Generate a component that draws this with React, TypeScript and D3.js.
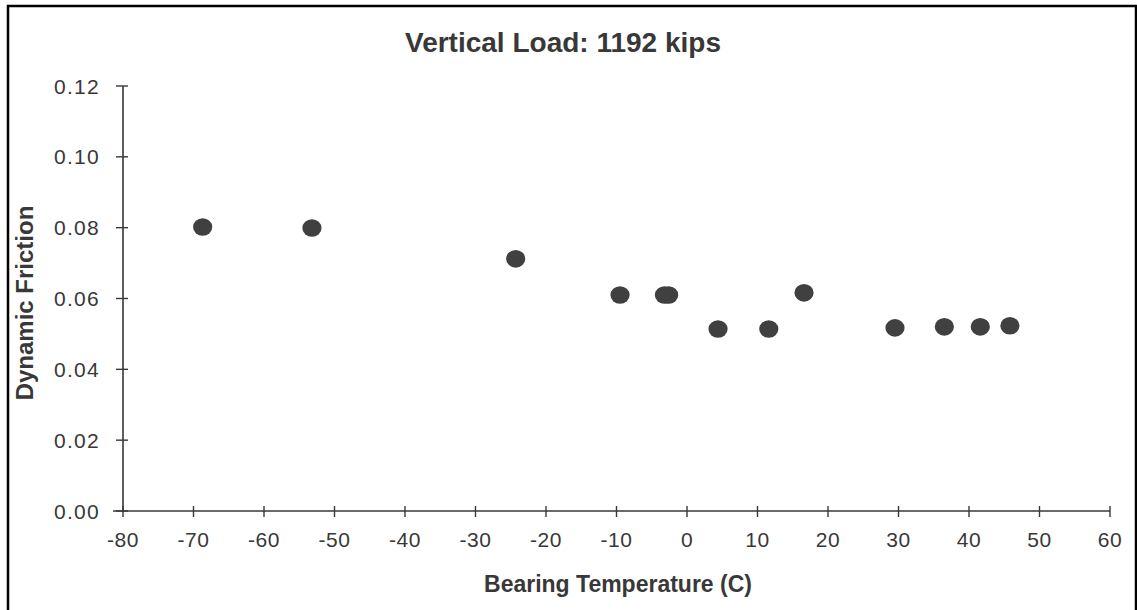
import React from "react";
import * as d3 from "d3";

const temperatures = [-68.7, -53.2, -24.3, -9.5, -3.2, -2.6, 4.4, 11.6, 16.6, 29.5, 36.5, 41.6, 45.8];
const friction = [0.0802, 0.0799, 0.0712, 0.061, 0.061, 0.061, 0.0514, 0.0514, 0.0616, 0.0517, 0.052, 0.052, 0.0523];
const xTicks = [-80, -70, -60, -50, -40, -30, -20, -10, 0, 10, 20, 30, 40, 50, 60];
const yTicks = [0, 0.02, 0.04, 0.06, 0.08, 0.1, 0.12];

const W = 1137;
const H = 610;

export default function App() {
  const x = d3.scaleLinear().domain([-80, 60]).range([123, 1110]);
  const y = d3.scaleLinear().domain([0, 0.12]).range([511, 86]);
  const fmtY = d3.format(".2f");
  const font = "'Liberation Sans', Arial, Helvetica, sans-serif";
  const ink = "#383838";
  const points = temperatures.map((t, i) => ({ t, f: friction[i] }));

  return (
    <svg
      width={W}
      height={H}
      style={{ position: "absolute", left: 0, top: 0, display: "block", background: "#fff" }}
      fontFamily={font}
    >
      <rect x={8} y={6} width={1128} height={620} fill="#fff" stroke="#000" strokeWidth={2.5} />
      <text x={563} y={52} textAnchor="middle" fontSize={28} fontWeight="bold" fill={ink}>
        Vertical Load: 1192 kips
      </text>

      {/* y axis */}
      <line x1={x(-80)} x2={x(-80)} y1={y(0.12)} y2={y(0)} stroke={ink} strokeWidth={1.6} />
      {yTicks.map((v) => (
        <g key={"y" + v}>
          <line x1={x(-80) - 7} x2={x(-80) + 5} y1={y(v)} y2={y(v)} stroke={ink} strokeWidth={1.4} />
          <text
            x={100}
            y={y(v)}
            dy="0.36em"
            textAnchor="end"
            fontSize={21}
            letterSpacing={1.3}
            fill={ink}
          >
            {fmtY(v)}
          </text>
        </g>
      ))}

      {/* x axis */}
      <line x1={x(-80) - 10} x2={x(60)} y1={y(0)} y2={y(0)} stroke={ink} strokeWidth={1.6} />
      {xTicks.map((v) => (
        <g key={"x" + v}>
          <line x1={x(v)} x2={x(v)} y1={y(0) - 5} y2={y(0) + 6} stroke={ink} strokeWidth={1.4} />
          <text x={x(v)} y={547} textAnchor="middle" fontSize={21} letterSpacing={0.5} fill={ink}>
            {String(v)}
          </text>
        </g>
      ))}

      <text x={618} y={592} textAnchor="middle" fontSize={23} fontWeight="bold" fill={ink}>
        Bearing Temperature (C)
      </text>
      <text
        transform={`translate(33,303) rotate(-90)`}
        textAnchor="middle"
        fontSize={24}
        fontWeight="bold"
        fill={ink}
      >
        Dynamic Friction
      </text>

      {points.map((p, i) => (
        <ellipse key={i} cx={x(p.t)} cy={y(p.f)} rx={9.6} ry={8.8} fill="#404040" />
      ))}
    </svg>
  );
}
